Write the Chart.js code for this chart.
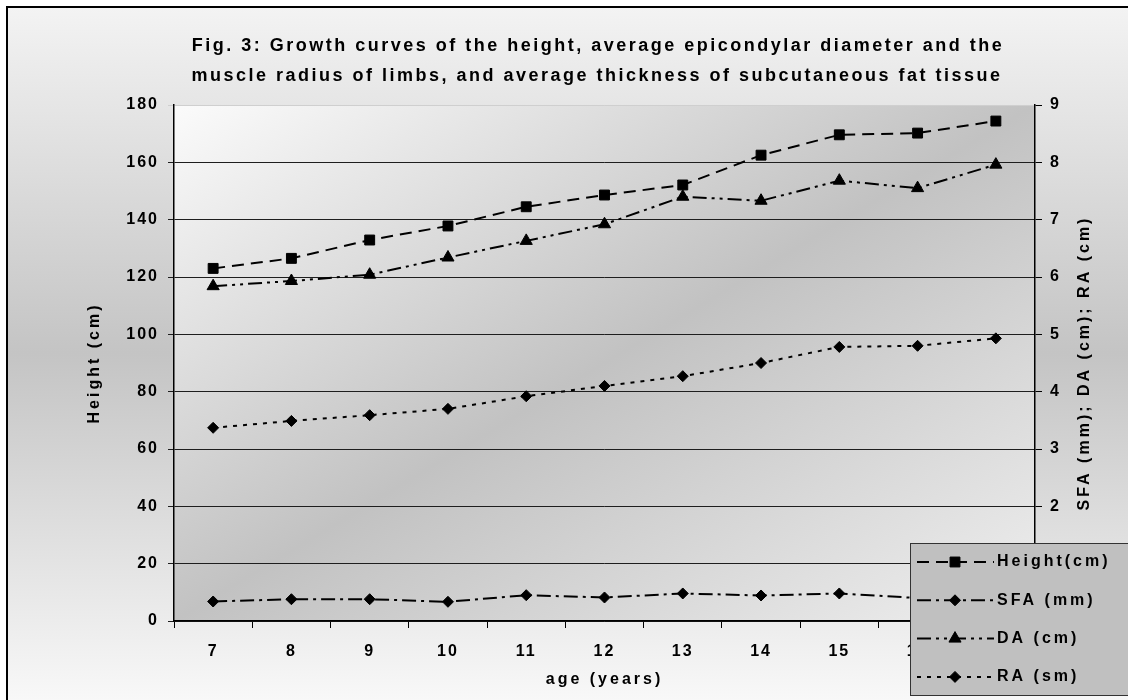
<!DOCTYPE html>
<html lang="en">
<head>
<meta charset="UTF-8">
<title>Fig. 3: Growth curves</title>
<script src="https://cdn.jsdelivr.net/npm/chart.js"></script>
<style>
  html, body { margin: 0; padding: 0; background: #fff; }
  .wrap { width: 1128px; height: 700px; }
</style>
</head>
<body>
<div class="wrap"><canvas id="growth" width="1128" height="700"></canvas></div>
<script>
// ages on the x axis
const ages = ['7', '8', '9', '10', '11', '12', '13', '14', '15', '16', '17'];

// series
const heightCm = [123.0, 126.5, 132.9, 137.8, 144.5, 148.6, 152.1, 162.5, 169.6, 170.2, 174.4];
const sfaMm   = [6.8, 7.6, 7.6, 6.7, 9.0, 8.2, 9.6, 8.9, 9.6, 8.0, 8.4];
const daCm    = [5.84, 5.93, 6.04, 6.34, 6.63, 6.92, 7.40, 7.33, 7.68, 7.55, 7.96];
const raCm    = [3.37, 3.49, 3.59, 3.70, 3.92, 4.10, 4.27, 4.50, 4.78, 4.80, 4.93];

// axis ranges
const leftRange = [0, 180, 20];
const rightRange = [0, 9, 1];

const titleLines = [
    'Fig. 3: Growth curves of the height, average epicondylar diameter and the',
    'muscle radius of limbs, and average thickness of subcutaneous fat tissue'
];

const FONT = "'Liberation Sans', Arial, sans-serif";

// background, frame and plot area shading
const backdrop = {
    id: 'backdrop',
    beforeDraw(chart) {
        const ctx = chart.ctx;
        const a = chart.chartArea;
        ctx.save();
        ctx.fillStyle = '#fff';
        ctx.fillRect(0, 0, chart.width, chart.height);
        let g = ctx.createLinearGradient(0, 7, 0, chart.height);
        g.addColorStop(0, '#f3f3f3');
        g.addColorStop(0.5, '#c4c4c4');
        g.addColorStop(1, '#f8f8f8');
        ctx.fillStyle = g;
        ctx.fillRect(7, 7, chart.width, chart.height);
        ctx.strokeStyle = '#000';
        ctx.lineWidth = 2;
        ctx.beginPath();
        ctx.moveTo(7, chart.height + 5);
        ctx.lineTo(7, 7);
        ctx.lineTo(chart.width + 5, 7);
        ctx.stroke();

        // diagonal band: light corners top-left / bottom-right
        const cx = (a.left + a.right) / 2, cy = (a.top + a.bottom) / 2;
        const w = a.right - a.left, h = a.bottom - a.top;
        const n = Math.hypot(w, h);
        const ux = h / n, uy = w / n;
        const k = (w / 2) * ux + (h / 2) * uy;
        g = ctx.createLinearGradient(cx - k * ux, cy - k * uy, cx + k * ux, cy + k * uy);
        g.addColorStop(0, '#fbfbfb');
        g.addColorStop(0.5, '#c2c2c2');
        g.addColorStop(1, '#efefef');
        ctx.fillStyle = g;
        ctx.fillRect(a.left, a.top, w, h);
        ctx.restore();
        ctx.letterSpacing = '2px';
    }
};

function spaced(ctx, text, x, y, rot, align) {
    ctx.save();
    ctx.translate(x, y);
    ctx.rotate(rot || 0);
    ctx.textAlign = align || 'center';
    ctx.textBaseline = 'middle';
    ctx.fillText(text, 0, 0);
    ctx.restore();
}

// titles and the floating legend box
const overlay = {
    id: 'overlay',
    afterDraw(chart) {
        const ctx = chart.ctx;
        const a = chart.chartArea;
        ctx.save();
        ctx.fillStyle = '#000';
        ctx.font = 'bold 18px ' + FONT;
        ctx.letterSpacing = '2.5px';
        spaced(ctx, titleLines[0], 598, 46);
        spaced(ctx, titleLines[1], 597, 76);

        ctx.font = 'bold 16px ' + FONT;
        ctx.letterSpacing = '3px';
        spaced(ctx, 'Height (cm)', 95, (a.top + a.bottom) / 2, -Math.PI / 2);
        spaced(ctx, 'SFA (mm); DA (cm); RA (cm)', 1085, (a.top + a.bottom) / 2, -Math.PI / 2);
        spaced(ctx, 'age (years)', (a.left + a.right) / 2, 680);

        // legend
        ctx.fillStyle = '#c0c0c0';
        ctx.fillRect(910, 543, 230, 153);
        ctx.strokeStyle = '#333';
        ctx.lineWidth = 1;
        ctx.strokeRect(910.5, 543.5, 230, 152);
        chart.data.datasets.forEach((ds, i) => {
            const y = 562 + i * 38.3;
            ctx.strokeStyle = '#000';
            ctx.lineWidth = ds.borderWidth;
            ctx.setLineDash(ds.borderDash);
            ctx.beginPath();
            ctx.moveTo(917, y);
            ctx.lineTo(994, y);
            ctx.stroke();
            ctx.setLineDash([]);
            ctx.fillStyle = '#000';
            ctx.lineWidth = 1;
            Chart.helpers.drawPoint(ctx, {
                pointStyle: ds.pointStyle, radius: ds.pointRadius, rotation: 0, borderWidth: 1
            }, 955, y);
            ctx.fillStyle = '#000';
            spaced(ctx, ds.label, 997, y, 0, 'left');
        });
        ctx.restore();
    }
};

function series(label, data, axis, dash, style, radius) {
    return {
        label: label,
        data: data,
        yAxisID: axis,
        borderColor: '#000',
        backgroundColor: '#000',
        borderWidth: 2,
        borderDash: dash,
        pointStyle: style,
        pointRadius: radius,
        pointBorderWidth: 1,
        pointBackgroundColor: '#000',
        pointBorderColor: '#000',
        tension: 0
    };
}

const tickFont = { family: FONT, size: 16, weight: 'bold' };

new Chart(document.getElementById('growth'), {
    type: 'line',
    data: {
        labels: ages,
        datasets: [
            series('Height(cm)', heightCm, 'y', [12, 7], 'rect', 7),
            series('SFA (mm)', sfaMm, 'y', [14, 5, 3, 5], 'rectRot', 5.5),
            series('DA (cm)', daCm, 'y1', [14, 5, 3, 5, 3, 5], 'triangle', 7),
            series('RA (sm)', raCm, 'y1', [4, 6], 'rectRot', 5.5)
        ]
    },
    options: {
        responsive: false,
        animation: false,
        devicePixelRatio: 1,
        layout: { padding: { top: 105, left: 0, right: 0, bottom: 0 } },
        plugins: {
            legend: { display: false },
            tooltip: { enabled: false },
            title: { display: false }
        },
        scales: {
            x: {
                offset: true,
                grid: { offset: true, drawOnChartArea: false, color: '#000', tickLength: 7 },
                border: { color: '#000', width: 1.5 },
                ticks: { color: '#000', font: tickFont, padding: 14, maxRotation: 0 },
                afterFit(s) { s.height = 79; }
            },
            y: {
                position: 'left',
                min: leftRange[0], max: leftRange[1],
                grid: {
                    color: c => (c.tick && c.tick.value === leftRange[1]) ? '#cfcfcf' : '#1e1e1e',
                    tickLength: 6
                },
                border: { color: '#000', width: 1.5 },
                ticks: { stepSize: leftRange[2], color: '#000', font: tickFont, padding: 9 },
                afterFit(s) { s.width = 174; }
            },
            y1: {
                position: 'right',
                min: rightRange[0], max: rightRange[1],
                grid: { drawOnChartArea: false, color: '#000', tickLength: 7 },
                border: { color: '#000', width: 1.5 },
                ticks: { stepSize: rightRange[2], color: '#000', font: tickFont, padding: 8 },
                afterFit(s) { s.width = 93; }
            }
        }
    },
    plugins: [backdrop, overlay]
});
</script>
</body>
</html>
